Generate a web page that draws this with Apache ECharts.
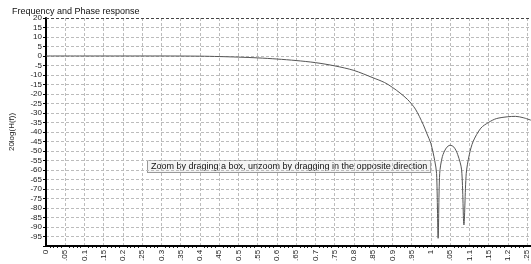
<!DOCTYPE html>
<html>
<head>
    <meta charset="utf-8">
    <title>Frequency and Phase response</title>
    <style>
        html,body,#chart{
            height: 100%;
            width: 100%;
            padding: 0;
            margin: 0;
            background: #fff;
        }
    </style>
</head>
<body>
    <div id="chart"></div>
    <script src="https://cdn.jsdelivr.net/npm/echarts@6/dist/echarts.min.js"></script>
    <script>
        // frequency (normalised) and magnitude in dB
        var freq = [0, 0.1, 0.2, 0.3, 0.4, 0.45, 0.5, 0.55, 0.6, 0.65, 0.7, 0.75, 0.8, 0.85, 0.88,
            0.9, 0.92, 0.94, 0.96, 0.98, 0.99, 1.0, 1.01, 1.015, 1.019, 1.023, 1.03, 1.04, 1.05,
            1.06, 1.07, 1.08, 1.086, 1.092, 1.1, 1.11, 1.13, 1.15, 1.17, 1.2, 1.22, 1.24, 1.26];
        var gainDb = [0, 0, 0, 0, -0.1, -0.3, -0.6, -1.0, -1.6, -2.4, -3.5, -5.2, -7.6, -11.5, -14,
            -16.5, -19.5, -23, -28, -36, -41, -46, -55, -62, -96, -62, -53, -48.5, -47,
            -48, -52, -60, -89, -62, -52, -45, -38, -35, -33, -32, -31.8, -32.5, -33.8];

        // tick labels as printed (the leading digit is cut off on every other one)
        var xTickLabels = ['0', '.05', '0.1', '.15', '0.2', '.25', '0.3', '.35', '0.4', '.45', '0.5',
            '.55', '0.6', '.65', '0.7', '.75', '0.8', '.85', '0.9', '.95', '1', '.05', '1.1', '.15',
            '1.2', '.25'];

        var points = freq.map(function (f, i) { return [f, gainDb[i]] });

        var myChart = echarts.init(document.getElementById('chart'));
        var lblFont = 'Liberation Sans';

        myChart.setOption({
            animation: false,
            title: {
                text: 'Frequency and Phase response',
                left: 7, top: 2,
                textStyle: { fontSize: 9, fontWeight: 'normal', color: '#111', fontFamily: lblFont }
            },
            grid: { left: 42, right: 0, top: 18, bottom: 16 },
            xAxis: {
                type: 'value', min: 0, max: 1.26, interval: 0.05,
                axisLine: { onZero: false, lineStyle: { color: '#000', width: 2 } },
                axisTick: { show: false },
                minorTick: { show: true, splitNumber: 5, length: 2, lineStyle: { color: '#000' } },
                axisLabel: {
                    rotate: 90, fontSize: 8, color: '#222', margin: 4, fontFamily: lblFont,
                    showMaxLabel: false,
                    formatter: function (v) {
                        var i = Math.round(v / 0.05);
                        return xTickLabels[i] || '';
                    }
                },
                splitLine: { show: true, lineStyle: { color: '#bcbcbc', type: [3, 2] } }
            },
            yAxis: {
                type: 'value', min: -100, max: 20, interval: 5,
                name: '20log(H(f))', nameLocation: 'middle', nameGap: 30, nameRotate: 90,
                nameTextStyle: { fontSize: 8, color: '#222', fontFamily: lblFont },
                axisLine: { show: true, lineStyle: { color: '#000', width: 2 } },
                axisTick: { show: true, length: 3, lineStyle: { color: '#000' } },
                axisLabel: {
                    fontSize: 8, color: '#222', margin: 4, fontFamily: lblFont,
                    formatter: function (v) { return v === -100 ? '' : String(v) }
                },
                splitLine: { show: true, lineStyle: { color: '#bcbcbc', type: [3, 2] } }
            },
            series: [{
                type: 'line',
                data: points,
                showSymbol: false,
                smooth: 0.3,
                lineStyle: { color: '#555', width: 1 },
                markLine: {
                    silent: true, symbol: 'none', label: { show: false },
                    lineStyle: { color: '#444', type: [3, 2], width: 1 },
                    data: [{ yAxis: 20 }]
                }
            }],
            graphic: [{
                type: 'text',
                left: 147, top: 160,
                style: {
                    text: 'Zoom by draging a box, unzoom by dragging in the opposite direction',
                    fontSize: 9, fontFamily: lblFont, fill: '#111',
                    backgroundColor: '#f4f4f4', borderColor: '#999', borderWidth: 1,
                    padding: [1, 3, 1, 3]
                }
            }]
        });
    </script>
</body>
</html>
